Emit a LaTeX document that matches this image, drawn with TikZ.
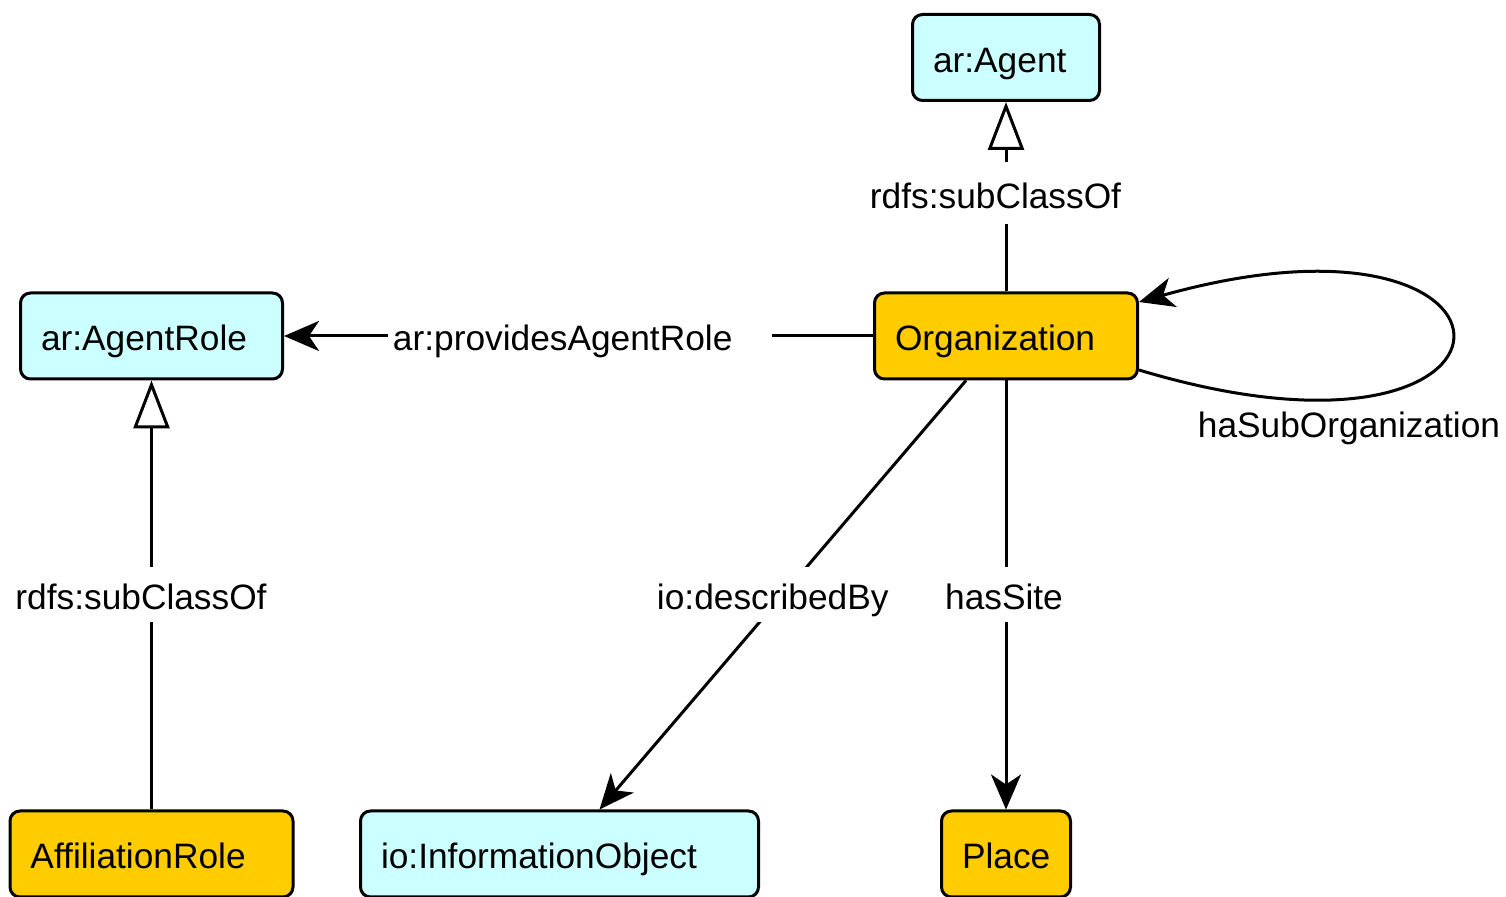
\documentclass[tikz,border=0pt]{standalone}
\usepackage{fontspec}
\setmainfont{Liberation Sans}
\usetikzlibrary{arrows.meta}
\definecolor{classcyan}{RGB}{204,255,255}
\definecolor{classgold}{RGB}{255,204,0}
\newcommand\diagfont{\fontsize{17.65pt}{21pt}\selectfont}
\begin{document}
\begin{tikzpicture}[x=0.5pt, y=-0.5pt,
  cls/.style={draw, line width=1.5pt, rounded corners=5pt, inner xsep=10.25pt,
    inner ysep=0pt, minimum height=43pt, align=left, text height=14.6pt,
    text depth=0pt, font=\diagfont},
  ext/.style={cls, fill=classcyan},
  loc/.style={cls, fill=classgold},
  lbl/.style={fill=white, inner xsep=2.5pt, inner ysep=0pt, text height=14.6pt,
    text depth=0pt, font=\diagfont},
  link/.style={line width=1.5pt, -{Stealth[length=17.5pt, width=15pt, inset=5pt]}},
  isa/.style={line width=1.5pt, -{Triangle[open, length=24pt, width=18pt, fill=white]}}
]
\useasboundingbox (0,0) rectangle (1506,897);

% classes
\node[ext, text width=73pt]    (agent) at (1006,57.5) {ar:Agent};
\node[ext, text width=110.5pt] (role)  at (151.5,336) {ar:AgentRole};
\node[loc, text width=111pt]   (org)   at (1006,336)  {Organization};
\node[loc, text width=121pt]   (affil) at (151.5,854) {AffiliationRole};
\node[ext, text width=178.5pt] (info)  at (559.5,854) {io:InformationObject};
\node[loc, text width=44pt]    (place) at (1006,854)  {Place};

% subclass relations
\draw[isa] (org.north) -- node[lbl, pos=0.52, xshift=-5.25pt, minimum height=31pt,
  text height=16pt] {rdfs:subClassOf} (agent.south);
\draw[isa] (affil.north) -- node[lbl, pos=0.5, xshift=-5.25pt, minimum height=27.5pt]
  {rdfs:subClassOf} (role.south);

% object properties
\draw[link] (org.west) -- node[lbl, pos=0.4975, text width=187pt, align=left,
  minimum height=27.5pt] {ar:providesAgentRole} (role.east);
\draw[link] ([xshift=-20pt]org.south) -- node[lbl, pos=0.5, xshift=-5pt,
  minimum height=27.5pt] {io:describedBy} ([xshift=20pt]info.north);
\draw[link] (org.south) -- node[lbl, pos=0.5, xshift=-1pt, minimum height=27.5pt]
  {hasSite} (place.north);
\draw[link] ([yshift=-17pt]org.east) .. controls (1555,495) and (1555,185) ..
  ([yshift=17pt]org.east);
\node[font=\diagfont, text height=12.6pt, text depth=0pt, inner sep=0pt]
  (hsub) at (1349,424.5) {haSubOrganization};
\end{tikzpicture}
\end{document}
